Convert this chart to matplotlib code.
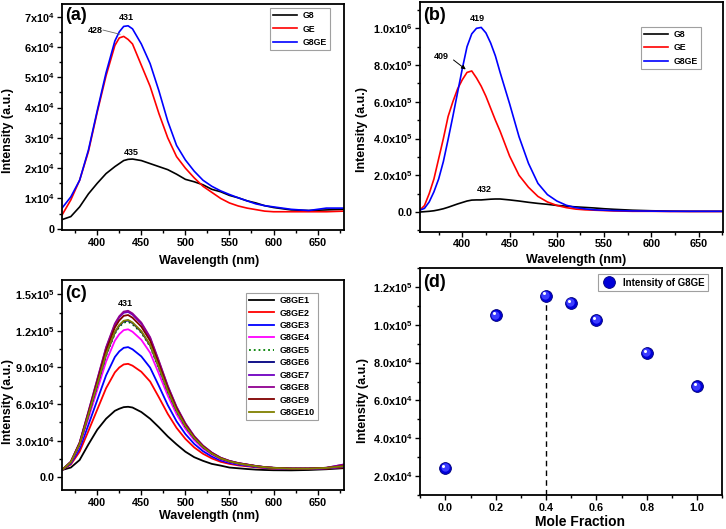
import numpy as np
import matplotlib
matplotlib.use('Agg')
import matplotlib.pyplot as plt
from matplotlib.ticker import FixedLocator, FixedFormatter, MultipleLocator
from matplotlib.transforms import offset_copy

plt.rcParams['font.family'] = ['Liberation Sans', 'DejaVu Sans']
plt.rcParams['font.weight'] = 'bold'
plt.rcParams['axes.labelweight'] = 'bold'
plt.rcParams['mathtext.fontset'] = 'custom'
plt.rcParams['mathtext.rm'] = 'Liberation Sans:bold'
plt.rcParams['mathtext.bf'] = 'Liberation Sans:bold'
plt.rcParams['mathtext.default'] = 'bf'

# === DATA: panel (a), intensity in units of 1e4 ===
wl = [360, 370, 380, 390, 400, 410, 420, 425, 430, 435, 440, 450, 460, 470, 480, 490,
      500, 510, 520, 530, 540, 550, 560, 570, 580, 590, 600, 620, 640, 660, 680]
a_g8 = [0.3, 0.4, 0.72, 1.15, 1.5, 1.82, 2.05, 2.15, 2.25, 2.29, 2.3, 2.25, 2.15, 2.05, 1.95, 1.8,
        1.63, 1.55, 1.45, 1.3, 1.22, 1.1, 1.02, 0.92, 0.85, 0.76, 0.7, 0.62, 0.6, 0.62, 0.64]
a_ge = [0.45, 0.95, 1.6, 2.55, 3.85, 5.05, 6.05, 6.3, 6.35, 6.25, 6.1, 5.4, 4.7, 3.8, 3.0, 2.38,
        2.0, 1.68, 1.4, 1.2, 1.0, 0.85, 0.75, 0.68, 0.63, 0.58, 0.56, 0.56, 0.56, 0.56, 0.58]
a_g8ge = [0.68, 1.05, 1.6, 2.6, 3.9, 5.15, 6.2, 6.5, 6.68, 6.7, 6.6, 6.1, 5.45, 4.55, 3.55, 2.75,
          2.27, 1.9, 1.6, 1.4, 1.25, 1.13, 1.02, 0.92, 0.82, 0.76, 0.72, 0.64, 0.6, 0.68, 0.68]

# === DATA: panel (b), intensity in units of 1e5 ===
wl_b = [355, 360, 365, 370, 375, 380, 385, 390, 395, 400, 405, 410, 415, 420, 425, 430, 435, 440,
        450, 460, 470, 480, 490, 500, 510, 520, 530, 540, 550, 560, 580, 600, 620, 640, 660, 676]
b_g8 = [0.0, 0.02, 0.04, 0.07, 0.12, 0.18, 0.26, 0.35, 0.44, 0.52, 0.6, 0.65, 0.66, 0.66, 0.68, 0.7, 0.71, 0.71,
        0.66, 0.6, 0.53, 0.47, 0.42, 0.36, 0.32, 0.28, 0.25, 0.22, 0.18, 0.15, 0.1, 0.07, 0.05, 0.04, 0.04, 0.04]
b_ge = [0.1, 0.35, 1.0, 1.8, 2.9, 4.0, 5.2, 6.0, 6.7, 7.2, 7.6, 7.68, 7.3, 6.85, 6.3, 5.65, 5.0, 4.4,
        3.05, 2.0, 1.35, 0.85, 0.55, 0.36, 0.24, 0.16, 0.12, 0.1, 0.08, 0.06, 0.04, 0.04, 0.03, 0.03, 0.03, 0.03]
b_g8ge = [0.1, 0.2, 0.55, 1.1, 1.8, 2.75, 3.95, 5.2, 6.5, 7.8, 9.0, 9.7, 10.0, 10.05, 9.75, 9.2, 8.5, 7.6,
          5.9, 4.1, 2.65, 1.56, 0.95, 0.6, 0.37, 0.24, 0.17, 0.12, 0.1, 0.08, 0.06, 0.05, 0.04, 0.04, 0.04, 0.04]

# === DATA: panel (c), intensity in units of 1e4, same wavelengths as (a) ===
c_names = ['G8GE1', 'G8GE2', 'G8GE3', 'G8GE4', 'G8GE5', 'G8GE6', 'G8GE7', 'G8GE8', 'G8GE9', 'G8GE10']
c1 = [0.6, 0.8, 1.42, 2.7, 3.9, 4.8, 5.45, 5.62, 5.75, 5.78, 5.72, 5.35, 4.8, 4.1, 3.35, 2.7,
      2.1, 1.65, 1.35, 1.1, 0.96, 0.8, 0.74, 0.68, 0.63, 0.6, 0.58, 0.57, 0.6, 0.66, 0.75]
c2 = [0.6, 1.05, 2.1, 3.8, 5.55, 7.3, 8.6, 9.0, 9.25, 9.3, 9.15, 8.65, 7.85, 6.55, 5.2, 4.05,
      3.15, 2.45, 1.93, 1.55, 1.27, 1.1, 0.98, 0.9, 0.82, 0.76, 0.72, 0.68, 0.68, 0.72, 0.82]
c3 = [0.6, 1.12, 2.34, 4.30, 6.33, 8.35, 9.86, 10.32, 10.61, 10.67, 10.49, 9.91, 8.99, 7.48, 5.92, 4.59,
      3.55, 2.74, 2.14, 1.70, 1.38, 1.18, 1.04, 0.95, 0.85, 0.79, 0.74, 0.69, 0.69, 0.74, 0.85]
c4 = [0.6, 1.2, 2.59, 4.84, 7.16, 9.48, 11.2, 11.73, 12.06, 12.13, 11.93, 11.27, 10.21, 8.48, 6.70, 5.17,
      3.98, 3.05, 2.36, 1.86, 1.49, 1.26, 1.1, 1.0, 0.89, 0.81, 0.76, 0.71, 0.71, 0.76, 0.89]
c5 = [0.6, 1.23, 2.7, 5.07, 7.52, 9.96, 11.78, 12.33, 12.68, 12.75, 12.54, 11.85, 10.73, 8.91, 7.03, 5.42,
      4.16, 3.18, 2.46, 1.93, 1.54, 1.3, 1.13, 1.02, 0.91, 0.82, 0.77, 0.71, 0.71, 0.77, 0.91]
c6 = [0.6, 1.23, 2.71, 5.11, 7.57, 10.03, 11.86, 12.43, 12.78, 12.85, 12.64, 11.93, 10.81, 8.98, 7.08, 5.46,
      4.19, 3.2, 2.47, 1.94, 1.54, 1.3, 1.14, 1.02, 0.91, 0.83, 0.77, 0.71, 0.71, 0.77, 0.91]
c7 = [0.6, 1.27, 2.83, 5.36, 7.97, 10.58, 12.51, 13.11, 13.48, 13.55, 13.33, 12.59, 11.4, 9.46, 7.45, 5.74,
      4.4, 3.35, 2.58, 2.01, 1.6, 1.34, 1.17, 1.05, 0.93, 0.84, 0.78, 0.72, 0.72, 0.78, 1.05]
c8 = [0.6, 1.28, 2.85, 5.4, 8.03, 10.65, 12.6, 13.2, 13.58, 13.65, 13.43, 12.68, 11.48, 9.53, 7.5, 5.78,
      4.43, 3.38, 2.6, 2.03, 1.61, 1.35, 1.17, 1.05, 0.93, 0.84, 0.78, 0.72, 0.72, 0.78, 1.05]
c9 = [0.6, 1.26, 2.79, 5.27, 7.83, 10.38, 12.28, 12.86, 13.23, 13.3, 13.08, 12.35, 11.19, 9.29, 7.32, 5.64,
      4.32, 3.3, 2.54, 1.99, 1.58, 1.33, 1.15, 1.04, 0.92, 0.83, 0.78, 0.72, 0.72, 0.78, 0.92]
c10 = [0.6, 1.24, 2.72, 5.12, 7.6, 10.07, 11.91, 12.48, 12.83, 12.9, 12.69, 11.98, 10.85, 9.01, 7.1, 5.48,
       4.21, 3.22, 2.48, 1.94, 1.55, 1.31, 1.14, 1.02, 0.91, 0.83, 0.77, 0.71, 0.71, 0.77, 0.91]

# === DATA: panel (d) ===
mole = [0.0, 0.2, 0.4, 0.5, 0.6, 0.8, 1.0]
inten = [2.43e4, 1.049e5, 1.154e5, 1.115e5, 1.024e5, 8.51e4, 6.74e4]

# tick labels
a_yt = [0, 1e4, 2e4, 3e4, 4e4, 5e4, 6e4, 7e4]
a_ytl = ['0', '1x10$^4$', '2x10$^4$', '3x10$^4$', '4x10$^4$', '5x10$^4$', '6x10$^4$', '7x10$^4$']
b_yt = [0, 2e5, 4e5, 6e5, 8e5, 1e6]
b_ytl = ['0.0', '2.0x10$^5$', '4.0x10$^5$', '6.0x10$^5$', '8.0x10$^5$', '1.0x10$^6$']
c_yt = [0, 3e4, 6e4, 9e4, 1.2e5, 1.5e5]
c_ytl = ['0.0', '3.0x10$^4$', '6.0x10$^4$', '9.0x10$^4$', '1.2x10$^5$', '1.5x10$^5$']
d_yt = [2e4, 4e4, 6e4, 8e4, 1e5, 1.2e5]
d_ytl = ['2.0x10$^4$', '4.0x10$^4$', '6.0x10$^4$', '8.0x10$^4$', '1.0x10$^5$', '1.2x10$^5$']

W, H = 726, 529
fig = plt.figure(figsize=(W / 100, H / 100), dpi=100)


def px_axes(l, t, r, b):
    return fig.add_axes([l / W, 1 - b / H, (r - l) / W, (b - t) / H])


def style(ax, yt, ytl, ymin_step):
    ax.yaxis.set_major_locator(FixedLocator(yt))
    ax.yaxis.set_major_formatter(FixedFormatter(ytl))
    ax.yaxis.set_minor_locator(MultipleLocator(ymin_step))
    ax.tick_params(which='both', direction='out', top=False, right=False, width=1.0,
                   labelsize=7.8, pad=2)
    ax.tick_params(which='major', length=3.5)
    ax.tick_params(which='minor', length=2)
    for s in ax.spines.values():
        s.set_linewidth(1.3)


def labels(ax, xl, yl, xpos, ypos, xfs=9):
    # centre-anchored axis labels, placed where the reference has them
    ax.set_xlabel(xl, fontsize=xfs, va='center')
    ax.set_ylabel(yl, fontsize=9, va='center')
    ax.xaxis.set_label_coords(*xpos)
    ax.yaxis.set_label_coords(*ypos)


def leg(ax, anchor, fs, hl=2.8, **kw):
    lg = ax.legend(loc='upper right', bbox_to_anchor=anchor, fontsize=fs, frameon=True,
                   fancybox=False, edgecolor='#888888', handlelength=hl, borderpad=0.35,
                   handletextpad=0.6, borderaxespad=0, **kw)
    lg.get_frame().set_linewidth(0.8)
    return lg


wl_a = np.array(wl)

# ---- (a) ----
ax = px_axes(62, 4, 344, 230)
ax.plot(wl_a, np.array(a_g8) * 1e4, color='black', lw=1.2, label='G8')
ax.plot(wl_a, np.array(a_ge) * 1e4, color='red', lw=1.2, label='GE')
ax.plot(wl_a, np.array(a_g8ge) * 1e4, color='blue', lw=1.2, label='G8GE')
ax.set_xlim(360, 680)
ax.set_ylim(-430, 74200)
ax.xaxis.set_major_locator(MultipleLocator(50))
ax.xaxis.set_minor_locator(MultipleLocator(25))
style(ax, a_yt, a_ytl, 5e3)
labels(ax, 'Wavelength (nm)', 'Intensity (a.u.)', (0.52, -0.137), (-0.193, 0.442))
ax.text(0.012, 0.985, '(a)', transform=ax.transAxes, fontsize=13, va='top', ha='left')
ax.text(433.4, 6.98e4, '431', fontsize=6.5, ha='center', va='center')
ax.text(398.3, 6.54e4, '428', fontsize=6.5, ha='center', va='center')
ax.plot([406.5, 425.8], [6.56e4, 6.42e4], color='#666666', lw=0.6)
ax.text(439.1, 2.51e4, '435', fontsize=6.5, ha='center', va='center')
leg(ax, (0.950, 0.982), 6.3)

# ---- (b) ----
ax = px_axes(420.3, 1.7, 723, 231.7)
wlb = np.array(wl_b)
ax.plot(wlb, np.array(b_g8) * 1e5, color='black', lw=1.2, label='G8')
ax.plot(wlb, np.array(b_ge) * 1e5, color='red', lw=1.2, label='GE')
ax.plot(wlb, np.array(b_g8ge) * 1e5, color='blue', lw=1.2, label='G8GE')
ax.set_xlim(355.6, 675.7)
ax.set_ylim(-1.07e5, 1.145e6)
ax.xaxis.set_major_locator(MultipleLocator(50))
ax.xaxis.set_minor_locator(MultipleLocator(25))
style(ax, b_yt, b_ytl, 1e5)
labels(ax, 'Wavelength (nm)', 'Intensity (a.u.)', (0.514, -0.123), (-0.191, 0.443))
ax.text(0.01, 0.975, '(b)', transform=ax.transAxes, fontsize=13, va='top', ha='left')
ax.text(415.5, 10.54e5, '419', fontsize=6.5, ha='center', va='center')
ax.text(377.8, 8.45e5, '409', fontsize=6.5, ha='center', va='center')
ax.annotate('', xy=(406, 7.67e5), xytext=(388.4, 8.37e5),
            arrowprops=dict(arrowstyle='-|>', color='black', lw=0.7, mutation_scale=6))
ax.text(423.7, 1.2e5, '432', fontsize=6.5, ha='center', va='center')
leg(ax, (0.927, 0.891), 6.3)

# ---- (c) ----
ax = px_axes(62, 280, 344, 490)
c_series = [c1, c2, c3, c4, c5, c6, c7, c8, c9, c10]
c_colors = ['black', '#ff0000', '#0000ff', '#ff00ff', '#008000', '#000080',
            '#7000c0', '#900090', '#800000', '#808000']
for name, ys, col in zip(c_names, c_series, c_colors):
    ls = ':' if name == 'G8GE5' else '-'
    ax.plot(wl_a, np.array(ys) * 1e4, color=col, lw=1.3, ls=ls, label=name)
ax.set_xlim(360, 680)
ax.set_ylim(-1.04e4, 1.617e5)
ax.xaxis.set_major_locator(MultipleLocator(50))
ax.xaxis.set_minor_locator(MultipleLocator(25))
style(ax, c_yt, c_ytl, 1.5e4)
labels(ax, 'Wavelength (nm)', 'Intensity (a.u.)', (0.52, -0.122), (-0.193, 0.42))
ax.text(0.012, 0.975, '(c)', transform=ax.transAxes, fontsize=13, va='top', ha='left')
ax.text(432.3, 1.426e5, '431', fontsize=6.5, ha='center', va='center')
leg(ax, (0.908, 0.938), 6.5, labelspacing=0.38)

# ---- (d) ----
ax = px_axes(420.3, 268, 722.3, 495)
ax.set_xlim(-0.1, 1.1)
ax.set_ylim(1e4, 1.3e5)
ax.vlines(mole[2], 1e4, inten[2], colors='black', linestyles=(0, (4, 3)), lw=1.0, zorder=1)
ax.plot(mole, inten, ls='none', marker='o', ms=8.5, mfc='#0000d8', mec='#00007a', mew=0.6,
        zorder=3, label='Intensity of G8GE')
ax.plot(mole, inten, ls='none', marker='o', ms=6.0, mfc='#3c3cff', mec='none', zorder=4,
        transform=offset_copy(ax.transData, fig=fig, x=-0.6, y=0.6, units='points'))
ax.plot(mole, inten, ls='none', marker='o', ms=2.2, mfc='white', mec='none', zorder=5,
        transform=offset_copy(ax.transData, fig=fig, x=-1.5, y=1.6, units='points'))
ax.xaxis.set_major_locator(FixedLocator([0.0, 0.2, 0.4, 0.6, 0.8, 1.0]))
ax.xaxis.set_major_formatter(FixedFormatter(['0.0', '0.2', '0.4', '0.6', '0.8', '1.0']))
ax.xaxis.set_minor_locator(MultipleLocator(0.1))
style(ax, d_yt, d_ytl, 1e4)
labels(ax, 'Mole Fraction', 'Intensity (a.u.)', (0.529, -0.12), (-0.191, 0.418), xfs=10)
ax.text(0.01, 0.975, '(d)', transform=ax.transAxes, fontsize=13, va='top', ha='left')
leg(ax, (0.953, 0.973), 7.0, hl=1.6)

fig.savefig('out.png', dpi=100)
